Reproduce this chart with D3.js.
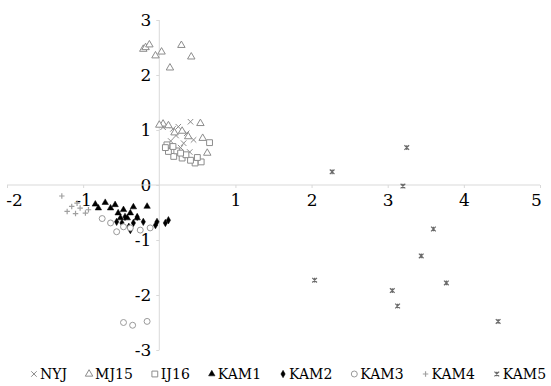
<!DOCTYPE html>
<html>
<head>
<meta charset="utf-8">
<script src="https://cdn.jsdelivr.net/npm/d3@7"></script>
<style>
  body { margin: 0; background: #fff; }
</style>
</head>
<body>
<svg id="chart" width="551" height="386"></svg>
<script>
// series values
const nyjX = [0.10, 0.18, 0.25, 0.41, 0.36, 0.45, 0.32, 0.05, 0.22, 0.15, 0.28, 0.40];
const nyjY = [1.08, 1.02, 1.06, 1.15, 0.94, 0.82, 0.76, 1.05, 0.90, 0.80, 0.68, 0.60];

const mj15X = [-0.21, -0.18, -0.13, -0.05, 0.03, 0.29, 0.42, 0.14, 0.05, 0.00, 0.54, 0.57, 0.63, 0.12, 0.30, 0.38, 0.20];
const mj15Y = [2.47, 2.50, 2.55, 2.35, 2.42, 2.54, 2.33, 2.13, 1.11, 1.09, 1.12, 0.85, 0.58, 1.08, 0.98, 0.88, 0.95];

const ij16X = [0.66, 0.19, 0.30, 0.47, 0.55, 0.41, 0.12, 0.10, 0.23, 0.35, 0.18, 0.50, 0.08, 0.28];
const ij16Y = [0.77, 0.52, 0.49, 0.40, 0.42, 0.45, 0.61, 0.73, 0.62, 0.55, 0.70, 0.50, 0.68, 0.58];

const kam1X = [-0.84, -0.71, -0.64, -0.58, -0.54, -0.47, -0.38, -0.34, -0.80, -0.51, -0.42, -0.29, -0.16];
const kam1Y = [-0.35, -0.32, -0.42, -0.36, -0.51, -0.45, -0.51, -0.40, -0.42, -0.60, -0.60, -0.60, -0.39];

const kam2X = [-0.56, -0.49, -0.45, -0.34, -0.29, -0.21, -0.05, -0.03, 0.08, 0.12, -0.38, -0.40];
const kam2Y = [-0.67, -0.69, -0.58, -0.69, -0.58, -0.67, -0.73, -0.67, -0.69, -0.64, -0.82, -0.76];

const kam3X = [-0.75, -0.64, -0.56, -0.38, -0.25, -0.12, -0.47, -0.47, -0.35, -0.16];
const kam3Y = [-0.61, -0.69, -0.85, -0.78, -0.82, -0.78, -0.76, -2.50, -2.55, -2.48];

const kam4X = [-1.28, -1.21, -1.15, -1.10, -1.04, -0.97, -0.93, -1.08];
const kam4Y = [-0.20, -0.48, -0.39, -0.52, -0.42, -0.51, -0.45, -0.33];

const kam5X = [3.25, 2.27, 3.20, 3.60, 3.44, 2.04, 3.77, 3.06, 3.13, 4.45];
const kam5Y = [0.68, 0.24, -0.02, -0.80, -1.29, -1.73, -1.78, -1.92, -2.20, -2.48];

const seriesNames = ["NYJ", "MJ15", "IJ16", "KAM1", "KAM2", "KAM3", "KAM4", "KAM5"];
const xTicks = [-2, -1, 1, 2, 3, 4, 5];
const yTicks = [-3, -2, -1, 0, 1, 2, 3];

// marker shapes that d3 may not ship
const symbolX = { draw(ctx, size) { const r = Math.sqrt(size) / 2;
  ctx.moveTo(-r, -r); ctx.lineTo(r, r); ctx.moveTo(r, -r); ctx.lineTo(-r, r); } };
const symbolPlusLine = { draw(ctx, size) { const r = Math.sqrt(size) / 2;
  ctx.moveTo(-r, 0); ctx.lineTo(r, 0); ctx.moveTo(0, -r); ctx.lineTo(0, r); } };
const symbolStar = { draw(ctx, size) { const r = Math.sqrt(size) / 2;
  ctx.moveTo(-r, -r); ctx.lineTo(r, r); ctx.moveTo(r, -r); ctx.lineTo(-r, r);
  ctx.moveTo(0, -r); ctx.lineTo(0, r); } };

const styles = [
  { type: symbolX, size: 30, fill: "none", stroke: "#8c8c8c", sw: 1 },
  { type: d3.symbolTriangle, size: 24, fill: "#fff", stroke: "#8c8c8c", sw: 1 },
  { type: d3.symbolSquare, size: 34, fill: "#fff", stroke: "#8c8c8c", sw: 1 },
  { type: d3.symbolTriangle, size: 18, fill: "#000", stroke: "#000", sw: 0.5 },
  { type: d3.symbolDiamond, size: 16, fill: "#000", stroke: "#000", sw: 0.5 },
  { type: d3.symbolCircle, size: 28, fill: "#fff", stroke: "#9a9a9a", sw: 1 },
  { type: symbolPlusLine, size: 30, fill: "none", stroke: "#a0a0a0", sw: 1.2 },
  { type: symbolStar, size: 22, fill: "none", stroke: "#6a6a6a", sw: 1.2 }
];

const series = [
  [nyjX, nyjY], [mj15X, mj15Y], [ij16X, ij16Y], [kam1X, kam1Y],
  [kam2X, kam2Y], [kam3X, kam3Y], [kam4X, kam4Y], [kam5X, kam5Y]
].map(([xs, ys], i) => ({ name: seriesNames[i], style: styles[i],
  points: xs.map((v, j) => ({ x: v, y: ys[j] })) }));

const svg = d3.select("#chart");
const serif = "DejaVu Serif";

const x = d3.scaleLinear().domain([-2, 5]).range([7, 540]);
const y = d3.scaleLinear().domain([-3, 3]).range([350, 20]);

// y axis at x = 0
svg.append("g")
  .attr("transform", `translate(${x(0)},0)`)
  .call(d3.axisLeft(y).tickValues(yTicks).tickSize(3).tickPadding(5)
    .tickFormat(d => d < 0 ? "-" + Math.abs(d) : d))
  .attr("font-family", serif)
  .call(g => g.select(".domain").attr("stroke", "#d9d9d9").attr("d", `M0,${y(3)}V${y(-3)}`))
  .call(g => g.selectAll(".tick line").attr("stroke", "#d9d9d9"))
  .call(g => g.selectAll("text").attr("font-size", 17).attr("fill", "#000"));

// x axis at y = 0
svg.append("g")
  .attr("transform", `translate(0,${y(0)})`)
  .call(d3.axisBottom(x).tickValues(xTicks).tickSize(3).tickPadding(6)
    .tickFormat(d => d < 0 ? "-" + Math.abs(d) : d))
  .attr("font-family", serif)
  .call(g => g.select(".domain").attr("stroke", "#d9d9d9").attr("d", `M${x(-2)},0H${x(5)}`))
  .call(g => g.selectAll(".tick line").attr("stroke", "#d9d9d9"))
  .call(g => g.selectAll("text").attr("font-size", 17).attr("fill", "#000"))
  .call(g => g.selectAll(".tick").filter(d => d === -2).select("text").attr("dx", 7))
  .call(g => g.selectAll(".tick").filter(d => d === 5).select("text").attr("dx", -4));

// points
series.forEach(s => {
  const gen = d3.symbol().type(s.style.type).size(s.style.size);
  svg.append("g").selectAll("path")
    .data(s.points)
    .join("path")
    .attr("transform", d => `translate(${x(d.x)},${y(d.y)})`)
    .attr("d", gen())
    .attr("fill", s.style.fill)
    .attr("stroke", s.style.stroke)
    .attr("stroke-width", s.style.sw);
});

// legend
const legend = svg.append("g").attr("transform", "translate(0,379)")
  .attr("font-family", serif);
const items = legend.selectAll("g").data(series).join("g");
items.append("path")
  .attr("d", d => d3.symbol().type(d.style.type).size(d.style.size)())
  .attr("fill", d => d.style.fill)
  .attr("stroke", d => d.style.stroke)
  .attr("stroke-width", d => d.style.sw)
  .attr("transform", "translate(0,-5)");
items.append("text")
  .attr("x", 6)
  .attr("font-size", 14)
  .attr("fill", "#000")
  .text(d => d.name);
const widths = items.nodes().map(n => n.querySelector("text").getComputedTextLength());
const gap = 22;
const total = d3.sum(widths) + widths.length * 6 + gap * (widths.length - 1);
let cursor = 290 - total / 2;
items.attr("transform", (d, i) => {
  const t = `translate(${cursor},0)`;
  cursor += widths[i] + 6 + gap;
  return t;
});
</script>
</body>
</html>
